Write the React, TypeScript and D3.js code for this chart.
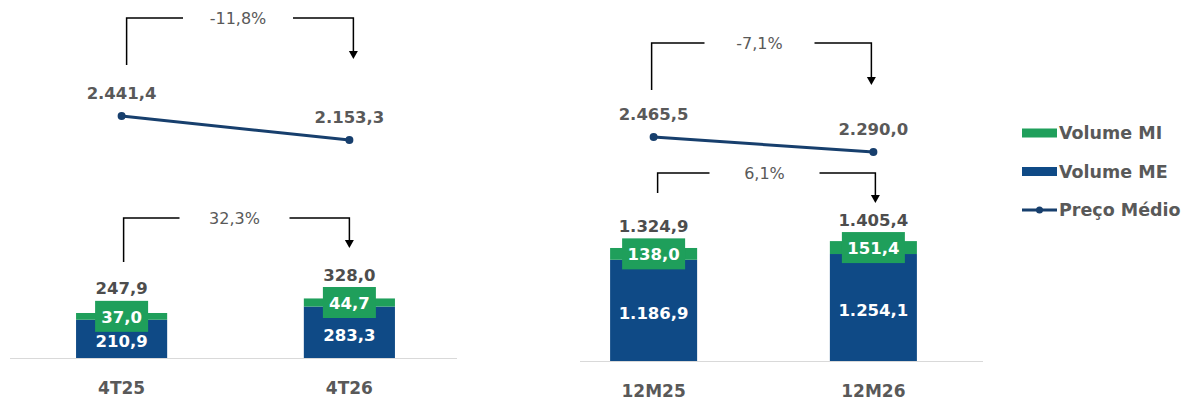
import * as d3 from "d3";

// ---- data ----
const quarterCats = ["4T25", "4T26"];
const quarterME = [210.9, 283.3];
const quarterMI = [37.0, 44.7];
const quarterTotal = [247.9, 328.0];
const quarterPrice = [2441.4, 2153.3];
const quarterPriceVar = "-11,8%";
const quarterVolVar = "32,3%";

const yearCats = ["12M25", "12M26"];
const yearME = [1186.9, 1254.1];
const yearMI = [138.0, 151.4];
const yearTotal = [1324.9, 1405.4];
const yearPrice = [2465.5, 2290.0];
const yearPriceVar = "-7,1%";
const yearVolVar = "6,1%";

const legendItems = ["Volume MI", "Volume ME", "Preço Médio"];

const GREEN = "#1f9f5b";
const BLUE = "#0f4a86";
const LINE = "#173f6d";
const GRAY = "#595959";
const FONT = "'DejaVu Sans', sans-serif";

const br = d3.formatLocale({
  decimal: ",",
  thousands: ".",
  grouping: [3],
  currency: ["R$", ""],
});
const fmt = br.format(",.1f");

interface BracketSpec {
  top: number;
  start: number;
  tip: number;
  dx1: number;
  dx2: number;
}

interface PanelProps {
  cats: string[];
  me: number[];
  mi: number[];
  total: number[];
  price: number[];
  priceVar: string;
  volVar: string;
  xRange: [number, number];
  padIn: number;
  padOut: number;
  baseY: number;
  barMax: number;
  lineDomain: [number, number];
  axisX: [number, number];
  priceBracket: BracketSpec;
  volBracket: BracketSpec;
}

const Bracket = ({
  x1,
  x2,
  start,
  top,
  tip,
  label,
}: {
  x1: number;
  x2: number;
  start: number;
  top: number;
  tip: number;
  label: string;
}) => {
  const mid = (x1 + x2) / 2 - 2;
  const gap = 55;
  return (
    <g>
      <path
        d={`M${x1},${start}V${top}H${mid - gap}`}
        fill="none"
        stroke="#000"
        strokeWidth={1.5}
      />
      <path
        d={`M${mid + gap},${top}H${x2}V${tip - 7}`}
        fill="none"
        stroke="#000"
        strokeWidth={1.5}
      />
      <path d={`M${x2 - 4.5},${tip - 8}L${x2 + 4.5},${tip - 8}L${x2},${tip}Z`} fill="#000" />
      <text
        x={mid}
        y={top}
        textAnchor="middle"
        dominantBaseline="central"
        fontSize={16}
        fill={GRAY}
      >
        {label}
      </text>
    </g>
  );
};

const Panel = (p: PanelProps) => {
  const x = d3
    .scaleBand<string>()
    .domain(p.cats)
    .range(p.xRange)
    .paddingInner(p.padIn)
    .paddingOuter(p.padOut);
  const y = d3.scaleLinear().domain([0, p.barMax]).range([p.baseY, 0]);
  const yl = d3.scaleLinear().domain(p.lineDomain).range([200, 0]);
  const cx = (c: string) => (x(c) ?? 0) + x.bandwidth() / 2;

  const line = d3
    .line<number>()
    .x((_, i) => cx(p.cats[i]))
    .y((d) => yl(d));

  const boxH = 31;
  const pb = p.priceBracket;
  const vb = p.volBracket;

  return (
    <g>
      <line
        x1={p.axisX[0]}
        x2={p.axisX[1]}
        y1={p.baseY + 0.5}
        y2={p.baseY + 0.5}
        stroke="#d9d9d9"
        strokeWidth={1}
      />
      {p.cats.map((c, i) => {
        const gTop = y(p.me[i] + p.mi[i]);
        const gBot = y(p.me[i]);
        const gMid = (gTop + gBot) / 2;
        const miText = fmt(p.mi[i]);
        const boxW = miText.length * 10 + 13;
        return (
          <g key={c}>
            <rect x={x(c)} y={gBot} width={x.bandwidth()} height={p.baseY - gBot} fill={BLUE} />
            <rect x={x(c)} y={gTop} width={x.bandwidth()} height={gBot - gTop} fill={GREEN} />
            <rect x={cx(c) - boxW / 2} y={gMid - boxH / 2} width={boxW} height={boxH} fill={GREEN} />
            <text
              x={cx(c)}
              y={gMid + 1}
              textAnchor="middle"
              dominantBaseline="central"
              fontSize={16.5}
              fontWeight="bold"
              fill="#fff"
            >
              {miText}
            </text>
            <text
              x={cx(c)}
              y={(gBot + p.baseY) / 2 + 3}
              textAnchor="middle"
              dominantBaseline="central"
              fontSize={16.5}
              fontWeight="bold"
              fill="#fff"
            >
              {fmt(p.me[i])}
            </text>
            <text
              x={cx(c)}
              y={gMid - boxH / 2 - 12}
              textAnchor="middle"
              dominantBaseline="central"
              fontSize={16.5}
              fontWeight="bold"
              fill="#4d4d4d"
            >
              {fmt(p.total[i])}
            </text>
            <text
              x={cx(c)}
              y={p.baseY + 30}
              textAnchor="middle"
              dominantBaseline="central"
              fontSize={17}
              fontWeight="bold"
              fill={GRAY}
            >
              {c}
            </text>
          </g>
        );
      })}
      <path d={line(p.price) ?? ""} fill="none" stroke={LINE} strokeWidth={3} />
      {p.price.map((v, i) => (
        <g key={i}>
          <circle cx={cx(p.cats[i])} cy={yl(v)} r={4} fill={LINE} />
          <text
            x={cx(p.cats[i])}
            y={yl(v) - 23}
            textAnchor="middle"
            dominantBaseline="central"
            fontSize={16.5}
            fontWeight="bold"
            fill={GRAY}
          >
            {fmt(v)}
          </text>
        </g>
      ))}
      <Bracket
        x1={cx(p.cats[0]) + pb.dx1}
        x2={cx(p.cats[1]) + pb.dx2}
        start={pb.start}
        top={pb.top}
        tip={pb.tip}
        label={p.priceVar}
      />
      <Bracket
        x1={cx(p.cats[0]) + vb.dx1}
        x2={cx(p.cats[1]) + vb.dx2}
        start={vb.start}
        top={vb.top}
        tip={vb.tip}
        label={p.volVar}
      />
    </g>
  );
};

export default function App() {
  return (
    <svg
      width={1190}
      height={401}
      style={{ position: "absolute", left: 0, top: 0, background: "#fff" }}
      fontFamily={FONT}
    >
      <Panel
        cats={quarterCats}
        me={quarterME}
        mi={quarterMI}
        total={quarterTotal}
        price={quarterPrice}
        priceVar={quarterPriceVar}
        volVar={quarterVolVar}
        xRange={[10, 461]}
        padIn={0.6}
        padOut={0.29}
        baseY={358}
        barMax={1972}
        lineDomain={[1433, 3834]}
        axisX={[10, 457]}
        priceBracket={{ top: 18, start: 65, tip: 59, dx1: 5, dx2: 4 }}
        volBracket={{ top: 218, start: 262, tip: 248, dx1: 2, dx2: 0 }}
      />
      <Panel
        cats={yearCats}
        me={yearME}
        mi={yearMI}
        total={yearTotal}
        price={yearPrice}
        priceVar={yearPriceVar}
        volVar={yearVolVar}
        xRange={[580, 947]}
        padIn={0.604}
        padOut={0.137}
        baseY={361}
        barMax={4232}
        lineDomain={[1729, 4068]}
        axisX={[580, 983]}
        priceBracket={{ top: 43, start: 90, tip: 85, dx1: -2, dx2: -2 }}
        volBracket={{ top: 173, start: 193, tip: 203, dx1: 4, dx2: 2 }}
      />
      {legendItems.map((name, i) => {
        const ly = 133 + i * 38.5;
        return (
          <g key={name}>
            {i < 2 ? (
              <rect x={1022} y={ly - 4.5} width={35} height={9} fill={i === 0 ? GREEN : BLUE} />
            ) : (
              <g>
                <line x1={1022} x2={1057} y1={ly} y2={ly} stroke={LINE} strokeWidth={3} />
                <circle cx={1039.5} cy={ly} r={3.5} fill={LINE} />
              </g>
            )}
            <text
              x={1059}
              y={ly}
              dominantBaseline="central"
              fontSize={17.5}
              fontWeight="bold"
              fill={GRAY}
            >
              {name}
            </text>
          </g>
        );
      })}
    </svg>
  );
}
